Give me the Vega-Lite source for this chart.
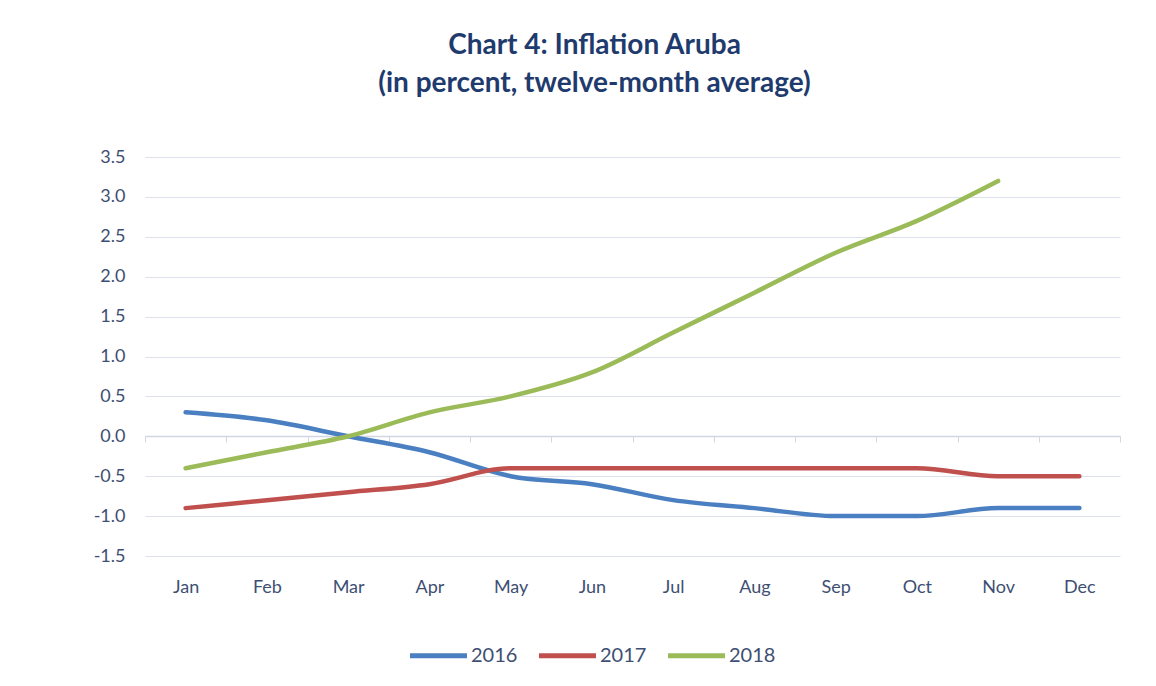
{
  "$schema": "https://vega.github.io/schema/vega-lite/v6.json",
  "autosize": {"type": "none"},
  "width": 975,
  "height": 399,
  "padding": {"left": 145, "top": 157, "right": 36, "bottom": 130},
  "background": "white",
  "title": {
    "text": ["Chart 4: Inflation Aruba", "(in percent, twelve-month average)"],
    "font": "Lato",
    "fontSize": 28,
    "fontWeight": "bold",
    "color": "#1F3B6E",
    "lineHeight": 38,
    "anchor": "middle",
    "dx": -38,
    "offset": 50
  },
  "data": {
    "values": [
      {"month": "Jan", "year": "2016", "value": 0.3},
      {"month": "Feb", "year": "2016", "value": 0.2},
      {"month": "Mar", "year": "2016", "value": 0.0},
      {"month": "Apr", "year": "2016", "value": -0.2},
      {"month": "May", "year": "2016", "value": -0.5},
      {"month": "Jun", "year": "2016", "value": -0.6},
      {"month": "Jul", "year": "2016", "value": -0.8},
      {"month": "Aug", "year": "2016", "value": -0.9},
      {"month": "Sep", "year": "2016", "value": -1.0},
      {"month": "Oct", "year": "2016", "value": -1.0},
      {"month": "Nov", "year": "2016", "value": -0.9},
      {"month": "Dec", "year": "2016", "value": -0.9},
      {"month": "Jan", "year": "2017", "value": -0.9},
      {"month": "Feb", "year": "2017", "value": -0.8},
      {"month": "Mar", "year": "2017", "value": -0.7},
      {"month": "Apr", "year": "2017", "value": -0.6},
      {"month": "May", "year": "2017", "value": -0.4},
      {"month": "Jun", "year": "2017", "value": -0.4},
      {"month": "Jul", "year": "2017", "value": -0.4},
      {"month": "Aug", "year": "2017", "value": -0.4},
      {"month": "Sep", "year": "2017", "value": -0.4},
      {"month": "Oct", "year": "2017", "value": -0.4},
      {"month": "Nov", "year": "2017", "value": -0.5},
      {"month": "Dec", "year": "2017", "value": -0.5},
      {"month": "Jan", "year": "2018", "value": -0.4},
      {"month": "Feb", "year": "2018", "value": -0.2},
      {"month": "Mar", "year": "2018", "value": 0.0},
      {"month": "Apr", "year": "2018", "value": 0.3},
      {"month": "May", "year": "2018", "value": 0.5},
      {"month": "Jun", "year": "2018", "value": 0.8},
      {"month": "Jul", "year": "2018", "value": 1.3},
      {"month": "Aug", "year": "2018", "value": 1.8},
      {"month": "Sep", "year": "2018", "value": 2.3},
      {"month": "Oct", "year": "2018", "value": 2.7},
      {"month": "Nov", "year": "2018", "value": 3.2}
    ]
  },
  "mark": {"type": "line", "strokeWidth": 4.5, "interpolate": "monotone", "strokeCap": "round"},
  "encoding": {
    "x": {
      "field": "month",
      "type": "ordinal",
      "sort": ["Jan","Feb","Mar","Apr","May","Jun","Jul","Aug","Sep","Oct","Nov","Dec"],
      "scale": {"type": "band", "paddingInner": 0, "paddingOuter": 0},
      "title": null,
      "axis": {
        "offset": -120,
        "domain": true,
        "domainColor": "#D3D7E3",
        "domainWidth": 1.5,
        "ticks": true,
        "tickBand": "extent",
        "tickSize": 6,
        "tickColor": "#D3D7E3",
        "labelPadding": 136,
        "labelAngle": 0,
        "labelFont": "Lato",
        "labelFontSize": 18,
        "labelColor": "#3E4F73",
        "grid": false
      }
    },
    "y": {
      "field": "value",
      "type": "quantitative",
      "scale": {"domain": [-1.5, 3.5], "nice": false, "zero": false},
      "title": null,
      "axis": {
        "values": [-1.5, -1.0, -0.5, 0.0, 0.5, 1.0, 1.5, 2.0, 2.5, 3.0, 3.5],
        "format": ".1f",
        "labelExpr": "replace(datum.label, '−', '-')",
        "domain": false,
        "ticks": false,
        "labelPadding": 20,
        "labelFont": "Lato",
        "labelFontSize": 18,
        "labelColor": "#3E4F73",
        "grid": true,
        "gridColor": "#DDE1EC",
        "gridWidth": 1.2
      }
    },
    "color": {
      "field": "year",
      "type": "nominal",
      "title": null,
      "scale": {"domain": ["2016", "2017", "2018"], "range": ["#4A7FC1", "#C0504D", "#9BBB59"]},
      "legend": {
        "orient": "none",
        "direction": "horizontal",
        "legendX": 262,
        "legendY": 467,
        "symbolType": "stroke",
        "symbolSize": 3250,
        "symbolStrokeWidth": 5,
        "labelFont": "Lato",
        "labelFontSize": 20,
        "labelColor": "#3E4F73",
        "columnPadding": 10,
        "labelOffset": 1
      }
    }
  },
  "config": {"view": {"stroke": null}}
}
